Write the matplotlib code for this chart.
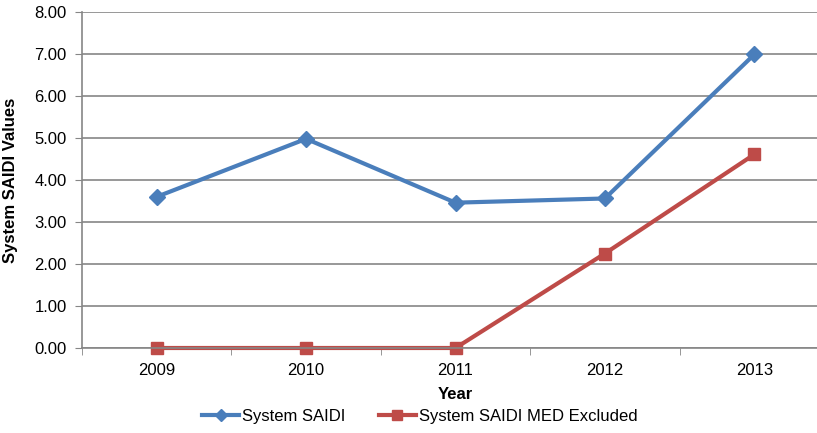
import matplotlib.pyplot as plt
import numpy as np

years = ['2009', '2010', '2011', '2012', '2013']
saidi = [3.60, 4.98, 3.46, 3.56, 6.99]
saidi_med_excl = [0.00, 0.00, 0.00, 2.25, 4.61]

plt.rcParams['font.family'] = ['Liberation Sans', 'DejaVu Sans']

fig = plt.figure(figsize=(8.17, 4.33), dpi=100)
# plot area runs slightly past the right edge, like the original export
ax = fig.add_axes([82 / 817, 1 - 348 / 433, 747 / 817, 336 / 433])

x = np.arange(len(years))
ax.plot(x, saidi, color='#4A7EBB', lw=3, marker='D', ms=8, label='System SAIDI',
        clip_on=False)
ax.plot(x, saidi_med_excl, color='#BE4B48', lw=3, marker='s', ms=9,
        label='System SAIDI MED Excluded', clip_on=False)

ax.set_xlim(-0.5, len(years) - 0.5)
ax.set_ylim(0, 8)
ax.set_yticks(np.arange(0, 9, 1))
ax.set_yticklabels([f'{v:.2f}' for v in np.arange(0, 9, 1)])
ax.set_xticks(x)
ax.set_xticklabels(years)
ax.set_xticks(np.arange(-0.5, len(years), 1), minor=True)
ax.tick_params(axis='x', which='major', length=0, pad=11, labelsize=12)
ax.tick_params(axis='x', which='minor', length=5, color='#868686')
ax.tick_params(axis='y', length=5, color='#868686', labelsize=12, pad=6)

ax.yaxis.grid(True, color='#868686', lw=1.2)
ax.set_axisbelow(True)
for s in ['top', 'right']:
    ax.spines[s].set_visible(False)
for s in ['left', 'bottom']:
    ax.spines[s].set_color('#868686')
    ax.spines[s].set_linewidth(1.2)

ax.set_xlabel('Year', fontsize=12, fontweight='bold', labelpad=6)
ax.set_ylabel('System SAIDI Values', fontsize=12, fontweight='bold', labelpad=12)

ax.legend(loc='center', bbox_to_anchor=(420 / 817, 17 / 433),
          bbox_transform=fig.transFigure, ncol=2, frameon=False, fontsize=12,
          handlelength=2.2, columnspacing=2.0, handletextpad=0.2, markerscale=0.8)

fig.savefig('out.png', dpi=100)
